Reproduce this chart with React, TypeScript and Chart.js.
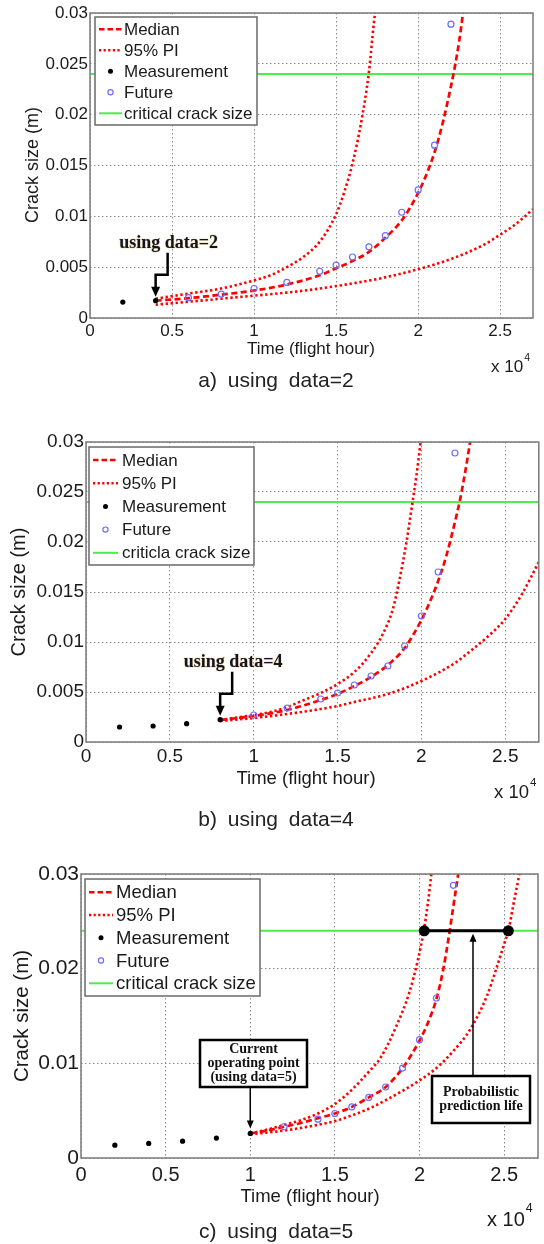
import React, { useEffect, useRef } from "react";
import { Chart, registerables } from "chart.js";
Chart.register(...registerables);

const SANS = '"Liberation Sans", Arial, Helvetica, sans-serif';
const SERIF = '"Liberation Serif", "Times New Roman", Times, serif';

// ---------- shared data ----------
const xTickValues = [0, 5000, 10000, 15000, 20000, 25000];
const xTickLabels = ["0", "0.5", "1", "1.5", "2", "2.5"];
const yTickValuesAB = [0, 0.005, 0.01, 0.015, 0.02, 0.025, 0.03];
const yTickLabelsAB = ["0", "0.005", "0.01", "0.015", "0.02", "0.025", "0.03"];
const yTickValuesC = [0, 0.01, 0.02, 0.03];
const yTickLabelsC = ["0", "0.01", "0.02", "0.03"];
const criticalX = [0, 27000];
const criticalY = [0.024, 0.024];
const legendLabelsA = ["Median", "95% PI", "Measurement", "Future", "critical crack size"];
const legendLabelsB = ["Median", "95% PI", "Measurement", "Future", "criticla crack size"];
const legendLabelsC = ["Median", "95% PI", "Measurement", "Future", "critical crack size"];

// ---------- panel a (using data=2) ----------
const measXA = [2000, 4000];
const measYA = [0.00157, 0.0017];
const futXA = [6000, 8000, 10000, 12000, 14000, 15000, 16000, 17000, 18000, 19000, 20000, 21000, 22000];
const futYA = [0.002, 0.00235, 0.0029, 0.0035, 0.0046, 0.0052, 0.006, 0.007, 0.0081, 0.0104, 0.0126, 0.017, 0.0289];
const medXA = [4000, 6000, 8000, 10000, 12000, 14000, 15000, 16000, 17000, 18000, 19000, 20000, 20500, 21000, 21500, 22000, 22200, 22500, 22750, 22850];
const medYA = [0.0017, 0.00195, 0.0023, 0.0027, 0.0033, 0.0042, 0.0049, 0.0056, 0.0065, 0.0079, 0.0096, 0.0123, 0.0141, 0.0163, 0.0192, 0.0228, 0.0244, 0.0272, 0.0302, 0.0315];
const upXA = [4000, 6000, 8000, 10000, 11000, 12000, 13000, 14000, 15000, 15500, 16000, 16500, 17000, 17300, 17450];
const upYA = [0.0019, 0.0024, 0.0029, 0.0037, 0.0042, 0.005, 0.006, 0.0075, 0.0102, 0.0124, 0.0152, 0.019, 0.0242, 0.029, 0.031];
const loXA = [4000, 6000, 8000, 10000, 12000, 14000, 16000, 18000, 20000, 22000, 24000, 25000, 26000, 27000];
const loYA = [0.0013, 0.0016, 0.0019, 0.0022, 0.0025, 0.0029, 0.0034, 0.004, 0.0048, 0.0058, 0.0072, 0.0082, 0.0093, 0.0107];

// ---------- panel b (using data=4) ----------
const measXB = [2000, 4000, 6000, 8000];
const measYB = [0.0015, 0.0016, 0.00183, 0.00223];
const futXB = [10000, 12000, 14000, 15000, 16000, 17000, 18000, 19000, 20000, 21000, 22000];
const futYB = [0.0027, 0.0034, 0.0043, 0.0049, 0.0057, 0.0066, 0.0076, 0.0096, 0.0126, 0.017, 0.0289];
const medXB = [8000, 10000, 12000, 14000, 15000, 16000, 17000, 18000, 19000, 20000, 20500, 21000, 21500, 22000, 22300, 22600, 22900, 23000];
const medYB = [0.0022, 0.0026, 0.0032, 0.0042, 0.0048, 0.0056, 0.0065, 0.0077, 0.0094, 0.0122, 0.014, 0.0161, 0.0187, 0.022, 0.0242, 0.0269, 0.03, 0.0312];
const upXB = [8000, 10000, 11000, 12000, 13000, 14000, 15000, 16000, 17000, 17700, 18300, 18700, 19100, 19400, 19700, 19950, 20050];
const upYB = [0.0022, 0.0027, 0.003, 0.0035, 0.0042, 0.0049, 0.0058, 0.007, 0.0089, 0.0108, 0.0133, 0.0163, 0.0199, 0.0232, 0.0266, 0.03, 0.0315];
const loXB = [8000, 10000, 12000, 14000, 15000, 16000, 18000, 20000, 22000, 23000, 24000, 25000, 26000, 27000];
const loYB = [0.0021, 0.0024, 0.0028, 0.0033, 0.0036, 0.004, 0.0048, 0.0061, 0.0079, 0.0092, 0.0106, 0.0123, 0.0148, 0.018];

// ---------- panel c (using data=5) ----------
const measXC = [2000, 4000, 6000, 8000, 10000];
const measYC = [0.00136, 0.00154, 0.00178, 0.00211, 0.0026];
const futXC = [12000, 14000, 15000, 16000, 17000, 18000, 19000, 20000, 21000, 22000];
const futYC = [0.0033, 0.0041, 0.0047, 0.0054, 0.0064, 0.0075, 0.0095, 0.0125, 0.0169, 0.0288];
const medXC = [10000, 11000, 12000, 13000, 14000, 15000, 16000, 17000, 18000, 19000, 20000, 20500, 21000, 21400, 21750, 22000, 22300, 22400];
const medYC = [0.0026, 0.0029, 0.0033, 0.0037, 0.0042, 0.0047, 0.0054, 0.0064, 0.0075, 0.0095, 0.0124, 0.0143, 0.0168, 0.0199, 0.0236, 0.0266, 0.0302, 0.0316];
const upXC = [10000, 11000, 12000, 13000, 14000, 15000, 16000, 17000, 17700, 18600, 19400, 19900, 20250, 20500, 20700, 20800];
const upYC = [0.0026, 0.003, 0.0035, 0.004, 0.0047, 0.0057, 0.0072, 0.0091, 0.0106, 0.0138, 0.0175, 0.0209, 0.024, 0.027, 0.03, 0.0316];
const loXC = [10000, 12000, 14000, 15000, 16000, 17000, 18000, 19000, 20000, 21000, 22000, 23000, 24000, 24500, 25000, 25250, 25550, 25900, 26000];
const loYC = [0.0025, 0.0029, 0.0035, 0.0039, 0.0045, 0.0052, 0.0061, 0.0071, 0.0082, 0.0095, 0.0113, 0.0136, 0.0172, 0.0198, 0.0226, 0.024, 0.0268, 0.03, 0.031];
const lifeXC = [20280, 25250];
const lifeYC = [0.024, 0.024];

const pts = (xs: number[], ys: number[]) => xs.map((x, i) => ({ x, y: ys[i] }));

type Spec = any;

const specs: Spec[] = [
  {
    top: 0, h: 400,
    area: { left: 90, right: 533, top: 13, bottom: 318 },
    yVals: yTickValuesAB, yLabels: yTickLabelsAB,
    yFont: 17, xFont: 17, padX: 3, padY: 2,
    yTitle: { x: 33, y: 165, size: 18 },
    xTitle: { x: 311, y: 349, size: 17 },
    x10: { x: 491, y: 367, size: 17 },
    legend: { x: 95, y: 17, w: 162, h: 108, row0: 29.3, gap: 21, s0: 99, s1: 122, tx: 124, size: 17, labels: legendLabelsA },
    meas: [measXA, measYA], fut: [futXA, futYA], med: [medXA, medYA], up: [upXA, upYA], lo: [loXA, loYA],
    arrowText: "using data=2",
    caption: "a) using data=2", capY: 380,
  },
  {
    top: 400, h: 440,
    area: { left: 86, right: 540, top: 442, bottom: 742 },
    yVals: yTickValuesAB, yLabels: yTickLabelsAB,
    yFont: 19, xFont: 19, padX: 3, padY: 2,
    yTitle: { x: 19, y: 592, size: 20 },
    xTitle: { x: 306, y: 779, size: 18.5 },
    x10: { x: 494, y: 793, size: 18.5 },
    legend: { x: 89, y: 447, w: 165, h: 118, row0: 460, gap: 23.2, s0: 93, s1: 118, tx: 122, size: 17, labels: legendLabelsB },
    meas: [measXB, measYB], fut: [futXB, futYB], med: [medXB, medYB], up: [upXB, upYB], lo: [loXB, loYB],
    arrowText: "using data=4",
    caption: "b) using data=4", capY: 819,
  },
  {
    top: 840, h: 404,
    area: { left: 81, right: 538, top: 874, bottom: 1158 },
    yVals: yTickValuesC, yLabels: yTickLabelsC,
    yFont: 21, xFont: 20, padX: 5, padY: 2,
    yTitle: { x: 22, y: 1016, size: 20.5 },
    xTitle: { x: 310, y: 1197, size: 18.5 },
    x10: { x: 487, y: 1220, size: 20 },
    legend: { x: 85, y: 879, w: 175, h: 117, row0: 892.3, gap: 22.75, s0: 89, s1: 113, tx: 116, size: 18.5, labels: legendLabelsC },
    meas: [measXC, measYC], fut: [futXC, futYC], med: [medXC, medYC], up: [upXC, upYC], lo: [loXC, loYC],
    life: [lifeXC, lifeYC],
    box1: { x: 200, y: 1040, w: 107, h: 47, lines: ["Current", "operating point", "(using data=5)"], size: 14 },
    box2: { x: 432, y: 1076, w: 98, h: 47, lines: ["Probabilistic", "prediction life"], size: 14, arrowX: 473 },
    caption: "c) using data=5", capY: 1231,
  },
];

function drawBox(ctx: CanvasRenderingContext2D, b: any, off: number) {
  ctx.save();
  ctx.fillStyle = "#fff";
  ctx.fillRect(b.x, b.y - off, b.w, b.h);
  ctx.strokeStyle = "#000";
  ctx.lineWidth = 2.5;
  ctx.setLineDash([]);
  ctx.strokeRect(b.x, b.y - off, b.w, b.h);
  ctx.fillStyle = "#111";
  ctx.font = `bold ${b.size}px ${SERIF}`;
  ctx.textAlign = "center";
  ctx.textBaseline = "middle";
  const n = b.lines.length;
  const lh = b.size * 1.0;
  const cy = b.y - off + b.h / 2;
  b.lines.forEach((t: string, i: number) => {
    ctx.fillText(t, b.x + b.w / 2, cy + (i - (n - 1) / 2) * lh);
  });
  ctx.restore();
}

function arrowHead(ctx: CanvasRenderingContext2D, x: number, y: number, dir: number, w = 4, l = 9) {
  ctx.beginPath();
  ctx.moveTo(x, y);
  ctx.lineTo(x - w, y - dir * l);
  ctx.lineTo(x + w, y - dir * l);
  ctx.closePath();
  ctx.fill();
}

function buildConfig(s: Spec): any {
  const off = s.top;
  const ds: any[] = [
    { data: pts(s.meas[0], s.meas[1]), showLine: false, pointRadius: 2.6, pointBackgroundColor: "#000", pointBorderWidth: 0, order: 0 },
    { data: pts(s.fut[0], s.fut[1]), showLine: false, pointRadius: 3, pointBackgroundColor: "rgba(0,0,0,0)", pointBorderColor: "#6d6dff", pointBorderWidth: 1.2, order: 0 },
    { data: pts(s.med[0], s.med[1]), showLine: true, pointRadius: 0, borderColor: "#ff0000", borderWidth: 2.7, borderDash: [6, 3.5], cubicInterpolationMode: "monotone", clip: 0, order: 2 },
    { data: pts(s.up[0], s.up[1]), showLine: true, pointRadius: 0, borderColor: "#ff0000", borderWidth: 2.6, borderDash: [2.4, 2.6], cubicInterpolationMode: "monotone", clip: 0, order: 2 },
    { data: pts(s.lo[0], s.lo[1]), showLine: true, pointRadius: 0, borderColor: "#ff0000", borderWidth: 2.6, borderDash: [2.4, 2.6], cubicInterpolationMode: "monotone", clip: 0, order: 2 },
    { data: pts(criticalX, criticalY), showLine: true, pointRadius: 0, borderColor: "#4ded4d", borderWidth: 2, clip: 0, order: 3 },
  ];
  if (s.life) {
    ds.push({ data: pts(s.life[0], s.life[1]), showLine: true, borderColor: "#000", borderWidth: 3, pointRadius: 5.5, pointBackgroundColor: "#000", pointBorderWidth: 0, order: 1 });
  }

  const overlay = {
    id: "overlay",
    afterDraw(chart: any) {
      const ctx: CanvasRenderingContext2D = chart.ctx;
      const a = chart.chartArea;
      const xs = chart.scales.x;
      const ys = chart.scales.y;
      ctx.save();
      ctx.setLineDash([]);
      // frame
      ctx.strokeStyle = "#7a7a7a";
      ctx.lineWidth = 1.5;
      ctx.strokeRect(a.left, a.top, a.right - a.left, a.bottom - a.top);

      // y title
      ctx.fillStyle = "#1a1a1a";
      ctx.save();
      ctx.translate(s.yTitle.x, s.yTitle.y - off);
      ctx.rotate(-Math.PI / 2);
      ctx.font = `${s.yTitle.size}px ${SANS}`;
      ctx.textAlign = "center";
      ctx.textBaseline = "middle";
      ctx.fillText("Crack size (m)", 0, 0);
      ctx.restore();

      // x title
      ctx.font = `${s.xTitle.size}px ${SANS}`;
      ctx.textAlign = "center";
      ctx.textBaseline = "middle";
      ctx.fillText("Time (flight hour)", s.xTitle.x, s.xTitle.y - off);

      // x 10^4
      ctx.textAlign = "left";
      ctx.font = `${s.x10.size}px ${SANS}`;
      ctx.fillText("x 10", s.x10.x, s.x10.y - off);
      const w10 = ctx.measureText("x 10").width;
      ctx.font = `${s.x10.size * 0.62}px ${SANS}`;
      ctx.fillText("4", s.x10.x + w10 + 1, s.x10.y - off - s.x10.size * 0.55);

      // legend
      const L = s.legend;
      ctx.fillStyle = "#fff";
      ctx.fillRect(L.x, L.y - off, L.w, L.h);
      ctx.strokeStyle = "#6a6a6a";
      ctx.lineWidth = 1.5;
      ctx.strokeRect(L.x, L.y - off, L.w, L.h);
      L.labels.forEach((lab: string, i: number) => {
        const y = L.row0 + i * L.gap - off;
        const cx = (L.s0 + L.s1) / 2;
        ctx.save();
        if (i === 0 || i === 1) {
          ctx.strokeStyle = "#ff0000";
          ctx.lineWidth = 2.5;
          ctx.setLineDash(i === 0 ? [5.5, 3] : [2.2, 2.4]);
          ctx.beginPath();
          ctx.moveTo(L.s0, y);
          ctx.lineTo(L.s1, y);
          ctx.stroke();
        } else if (i === 2) {
          ctx.fillStyle = "#000";
          ctx.beginPath();
          ctx.arc(cx, y, 2.5, 0, Math.PI * 2);
          ctx.fill();
        } else if (i === 3) {
          ctx.strokeStyle = "#6d6dff";
          ctx.lineWidth = 1.2;
          ctx.beginPath();
          ctx.arc(cx, y, 2.6, 0, Math.PI * 2);
          ctx.stroke();
        } else {
          ctx.strokeStyle = "#4ded4d";
          ctx.lineWidth = 2;
          ctx.beginPath();
          ctx.moveTo(L.s0, y);
          ctx.lineTo(L.s1, y);
          ctx.stroke();
        }
        ctx.restore();
        ctx.fillStyle = "#1a1a1a";
        ctx.font = `${L.size}px ${SANS}`;
        ctx.textAlign = "left";
        ctx.textBaseline = "middle";
        ctx.fillText(lab, L.tx, y + 1);
      });

      // annotations
      const mx = s.meas[0][s.meas[0].length - 1];
      const my = s.meas[1][s.meas[1].length - 1];
      const px = xs.getPixelForValue(mx);
      const py = ys.getPixelForValue(my);
      ctx.fillStyle = "#000";
      ctx.strokeStyle = "#000";
      if (s.arrowText) {
        const tx = px, ty = py - 4;
        ctx.font = `bold 18px ${SERIF}`;
        ctx.textAlign = "center";
        ctx.textBaseline = "middle";
        ctx.lineWidth = 1.2;
        ctx.strokeStyle = "rgba(205,150,40,0.3)";
        ctx.strokeText(s.arrowText, tx + 13, ty - 53);
        ctx.fillStyle = "#141420";
        ctx.fillText(s.arrowText, tx + 13, ty - 53);
        ctx.strokeStyle = "#000";
        ctx.fillStyle = "#000";
        ctx.lineWidth = 2.5;
        ctx.lineJoin = "miter";
        ctx.beginPath();
        ctx.moveTo(tx + 12, ty - 44);
        ctx.lineTo(tx + 12, ty - 22);
        ctx.lineTo(tx, ty - 22);
        ctx.lineTo(tx, ty - 8);
        ctx.stroke();
        arrowHead(ctx, tx, ty, 1, 4.5, 10);
      }
      if (s.box1) {
        const b = s.box1;
        ctx.lineWidth = 1.5;
        ctx.beginPath();
        ctx.moveTo(px, b.y + b.h - off);
        ctx.lineTo(px, py - 12);
        ctx.stroke();
        arrowHead(ctx, px, py - 5, 1, 3.5, 8);
        drawBox(ctx, b, off);
      }
      if (s.box2 && s.life) {
        const b = s.box2;
        const ly = ys.getPixelForValue(s.life[1][0]) + 3;
        ctx.fillStyle = "#000";
        ctx.strokeStyle = "#000";
        ctx.lineWidth = 1.5;
        ctx.beginPath();
        ctx.moveTo(b.arrowX, b.y - off);
        ctx.lineTo(b.arrowX, ly + 7);
        ctx.stroke();
        arrowHead(ctx, b.arrowX, ly, -1, 3.5, 8);
        drawBox(ctx, b, off);
      }
      ctx.restore();
    },
  };

  return {
    type: "scatter",
    data: { datasets: ds },
    options: {
      animation: false,
      responsive: false,
      devicePixelRatio: 1,
      events: [],
      layout: { padding: { top: s.area.top - off, right: 544 - s.area.right, left: 0, bottom: 0 } },
      plugins: { legend: { display: false }, tooltip: { enabled: false } },
      scales: {
        x: {
          type: "linear",
          min: 0,
          max: 27000,
          afterFit: (sc: any) => { sc.height = s.top + s.h - s.area.bottom; },
          afterBuildTicks: (sc: any) => { sc.ticks = xTickValues.map((value) => ({ value })); },
          grid: { color: "#8c8c8c", lineWidth: 1, drawTicks: false },
          border: { display: false, dash: [1.5, 2.5] },
          ticks: {
            autoSkip: false,
            maxRotation: 0,
            minRotation: 0,
            padding: s.padX,
            color: "#1a1a1a",
            font: { family: SANS, size: s.xFont },
            callback: (_v: number, i: number) => xTickLabels[i] ?? "",
          },
        },
        y: {
          type: "linear",
          min: 0,
          max: 0.03,
          afterFit: (sc: any) => { sc.width = s.area.left; },
          afterBuildTicks: (sc: any) => { sc.ticks = s.yVals.map((value: number) => ({ value })); },
          grid: { color: "#8c8c8c", lineWidth: 1, drawTicks: false },
          border: { display: false, dash: [1.5, 2.5] },
          ticks: {
            autoSkip: false,
            padding: s.padY,
            color: "#1a1a1a",
            font: { family: SANS, size: s.yFont },
            callback: (_v: number, i: number) => s.yLabels[i] ?? "",
          },
        },
      },
    },
    plugins: [overlay],
  };
}

function Panel({ spec }: { spec: Spec }) {
  const ref = useRef<HTMLCanvasElement>(null);
  useEffect(() => {
    if (!ref.current) return;
    const chart = new Chart(ref.current, buildConfig(spec));
    return () => chart.destroy();
  }, [spec]);
  return (
    <canvas
      ref={ref}
      width={544}
      height={spec.h}
      style={{ position: "absolute", left: 0, top: spec.top, width: 544, height: spec.h }}
    />
  );
}

export default function App() {
  return (
    <div style={{ position: "absolute", left: 0, top: 0, width: 544, height: 1244, background: "#fff", overflow: "hidden" }}>
      {specs.map((s, i) => (
        <React.Fragment key={i}>
          <Panel spec={s} />
          <div
            style={{
              position: "absolute",
              left: 0,
              width: 552,
              top: s.capY - 13,
              height: 26,
              lineHeight: "26px",
              textAlign: "center",
              fontFamily: SANS,
              fontSize: 21,
              wordSpacing: "5px",
              color: "#222",
            }}
          >
            {s.caption}
          </div>
        </React.Fragment>
      ))}
    </div>
  );
}
